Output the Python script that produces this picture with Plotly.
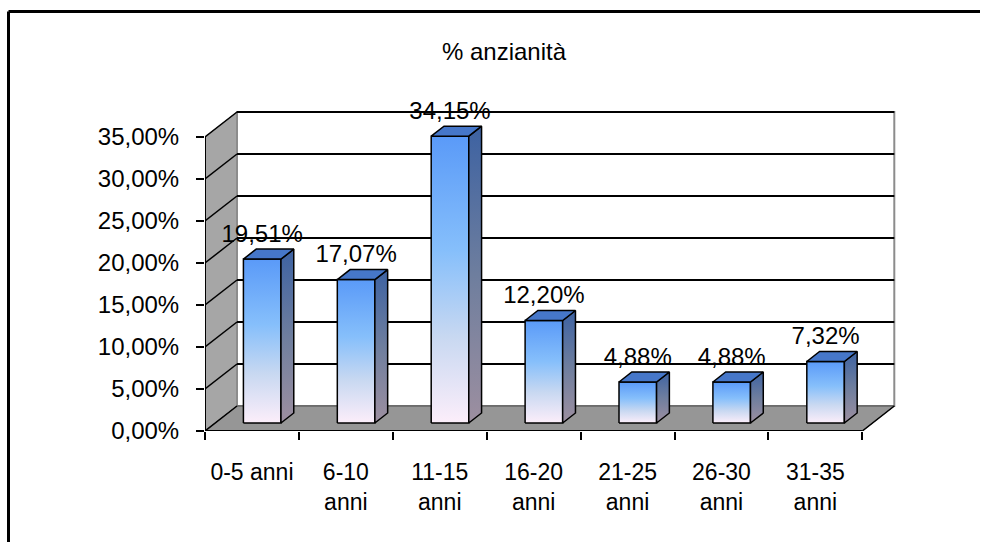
import plotly.graph_objects as go

# ---------------- data ----------------
categories = ["0-5 anni", "6-10 anni", "11-15 anni", "16-20 anni",
              "21-25 anni", "26-30 anni", "31-35 anni"]
tick_labels = ["0-5 anni", "6-10<br>anni", "11-15<br>anni", "16-20<br>anni",
               "21-25<br>anni", "26-30<br>anni", "31-35<br>anni"]
values = [19.51, 17.07, 34.15, 12.20, 4.88, 4.88, 7.32]
y_ticks = [0, 5, 10, 15, 20, 25, 30, 35]
title_text = "% anzianità"

# ---------------- layout geometry ----------------
W, H = 981, 543
PL, PR, PT, PB = 205, 900, 100, 431      # plot area in pixels
XPX, YPX = 93.9, 8.4                     # pixels per category / per 1 %
XMAX = (PR - PL) / XPX
YMAX = (PB - PT) / YPX
DX, DY = 32 / XPX, 25 / YPX              # 3-D depth vector (data units)
N = len(values)
VTOP = y_ticks[-1]
D0, DB, BW = 0.32, 0.40, 0.40            # bar depth start, bar depth, bar width

FONT = "Liberation Sans, Arial, sans-serif"


def fmt(v):
    return f"{v:.2f}".replace(".", ",") + "%"


fig = go.Figure()

shapes = []
# left wall
shapes.append(dict(type="path", xref="x", yref="y", layer="below",
                   path=f"M 0,0 L 0,{VTOP} L {DX},{VTOP+DY} L {DX},{DY} Z",
                   fillcolor="#A6A6A6", line=dict(color="#808080", width=1)))
# back wall
shapes.append(dict(type="rect", xref="x", yref="y", layer="below",
                   x0=DX, x1=N + DX, y0=DY, y1=VTOP + DY,
                   fillcolor="white", line=dict(color="#8C8C8C", width=2)))
# floor
shapes.append(dict(type="path", xref="x", yref="y", layer="below",
                   path=f"M 0,0 L {N},0 L {N+DX},{DY} L {DX},{DY} Z",
                   fillcolor="#969696", line=dict(color="#4D4D4D", width=1)))
# gridlines on back wall and left wall
for v in y_ticks:
    if v > 0:
        shapes.append(dict(type="line", xref="x", yref="y", layer="below",
                           x0=DX, x1=N + DX, y0=v + DY, y1=v + DY,
                           line=dict(color="black", width=2)))
    shapes.append(dict(type="line", xref="x", yref="y", layer="below",
                       x0=0, x1=DX, y0=v, y1=v + DY,
                       line=dict(color="black", width=1.5)))
# front axis lines
shapes.append(dict(type="line", xref="x", yref="y", layer="below",
                   x0=0, x1=0, y0=0, y1=VTOP, line=dict(color="black", width=2)))
shapes.append(dict(type="line", xref="x", yref="y", layer="below",
                   x0=0, x1=N, y0=0, y1=0, line=dict(color="black", width=2)))
shapes.append(dict(type="line", xref="x", yref="y", layer="below",
                   x0=N, x1=N + DX, y0=0, y1=DY, line=dict(color="black", width=1.5)))
# outer chart frame (top and left edges), kept inside the page
fx = (8.5 - PL) / (PR - PL)
fy = (PB - 11.5) / (PB - PT)
shapes.append(dict(type="line", xref="paper", yref="paper",
                   x0=fx, x1=(W - 1 - PL) / (PR - PL), y0=fy, y1=fy,
                   line=dict(color="black", width=3)))
shapes.append(dict(type="line", xref="paper", yref="paper",
                   x0=fx, x1=fx, y0=fy, y1=(PB - H + 1) / (PB - PT),
                   line=dict(color="black", width=3)))

front_grad = dict(type="vertical",
                  colorscale=[[0.0, "#FCEEFA"], [0.3, "#C8D8F1"],
                              [0.6, "#86BFFB"], [1.0, "#5A9AF8"]])
side_grad = dict(type="vertical",
                 colorscale=[[0.0, "#9D8FA0"], [0.5, "#6E7E9E"], [1.0, "#3D62A2"]])
edge = dict(color="black", width=1.5)

for i, v in enumerate(values):
    x0 = i + 0.5 - BW / 2 + D0 * DX
    x1 = x0 + BW
    yb = D0 * DY
    yt = v + D0 * DY
    bdx, bdy = DB * DX, DB * DY
    # front face
    fig.add_trace(go.Scatter(x=[x0, x1, x1, x0, x0], y=[yb, yb, yt, yt, yb],
                             mode="lines", fill="toself", fillgradient=front_grad,
                             line=edge, hoverinfo="skip", showlegend=False))
    # side face
    fig.add_trace(go.Scatter(x=[x1, x1 + bdx, x1 + bdx, x1, x1],
                             y=[yb, yb + bdy, yt + bdy, yt, yb],
                             mode="lines", fill="toself", fillgradient=side_grad,
                             line=edge, hoverinfo="skip", showlegend=False))
    # top face
    fig.add_trace(go.Scatter(x=[x0, x1, x1 + bdx, x0 + bdx, x0],
                             y=[yt, yt, yt + bdy, yt + bdy, yt],
                             mode="lines", fill="toself", fillcolor="#4677C9",
                             line=edge, hoverinfo="skip", showlegend=False))

# data labels
fig.add_trace(go.Scatter(
    x=[i + 0.5 + D0 * DX for i in range(N)],
    y=[v + (D0 + DB) * DY + 1.6 for v in values],
    mode="text", text=[fmt(v) for v in values], textposition="middle center",
    textfont=dict(family=FONT, size=24, color="black"),
    cliponaxis=False, hoverinfo="skip", showlegend=False))

fig.update_layout(
    width=W, height=H, autosize=False,
    margin=dict(l=PL, r=W - PR, t=PT, b=H - PB, pad=0),
    paper_bgcolor="white", plot_bgcolor="white",
    font=dict(family=FONT, size=23, color="black"),
    title=dict(text=title_text, x=504 / W, y=1 - 52 / H, xref="container",
               yref="container", xanchor="center", yanchor="middle",
               font=dict(family=FONT, size=24, color="black")),
    shapes=shapes,
    xaxis=dict(range=[0, XMAX], showgrid=False, zeroline=False, showline=False,
               tickmode="array", tickvals=[i + 0.5 for i in range(N)],
               ticktext=tick_labels, ticks="", ticklabelstandoff=25,
               minor=dict(tickmode="array", tickvals=list(range(N + 1)),
                          ticks="outside", ticklen=8, tickwidth=2,
                          tickcolor="black", showgrid=False),
               tickfont=dict(family=FONT, size=23, color="black"),
               fixedrange=True),
    yaxis=dict(range=[0, YMAX], showgrid=False, zeroline=False, showline=False,
               tickmode="array", tickvals=y_ticks,
               ticktext=[fmt(v) for v in y_ticks],
               ticks="outside", ticklen=8, tickwidth=2, tickcolor="black",
               ticklabelstandoff=12,
               tickfont=dict(family=FONT, size=24, color="black"),
               fixedrange=True),
)

fig.write_html("out.html", config={"displayModeBar": False},
               post_script="document.body.style.margin='0';")
